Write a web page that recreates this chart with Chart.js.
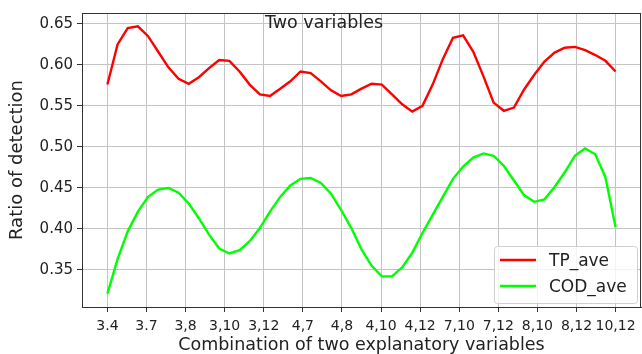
<!DOCTYPE html>
<html>
<head>
<meta charset="utf-8">
<title>Two variables</title>
<script src="https://cdn.jsdelivr.net/npm/chart.js@4.4.1/dist/chart.umd.min.js"></script>
<style>
  html, body { margin: 0; padding: 0; background: #fff; }
  #chart_wrap { width: 642px; height: 354px; }
</style>
</head>
<body>
<div id="chart_wrap"><canvas id="detection_chart" width="642" height="354"></canvas></div>
<script>
// Tick labels along the bottom (one per explanatory variable pair)
const categories = ["3.4", "3.7", "3,8", "3,10", "3,12", "4,7", "4,8", "4,10", "4,12", "7,10", "7,12", "8,10", "8,12", "10,12"];
const yTicks = [0.35, 0.40, 0.45, 0.50, 0.55, 0.60, 0.65];
const seriesNames = ["TP_ave", "COD_ave"];
const chartTitle = "Two variables";

// Smoothed curves, 51 samples spread evenly from the first to the last category
const tpAve = [
  0.576, 0.625, 0.645, 0.647, 0.635, 0.616, 0.597, 0.583, 0.577, 0.585,
  0.596, 0.606, 0.605, 0.592, 0.576, 0.564, 0.562, 0.571, 0.580, 0.592,
  0.590, 0.580, 0.569, 0.562, 0.564, 0.571, 0.577, 0.576, 0.564, 0.552,
  0.543, 0.550, 0.576, 0.607, 0.633, 0.636, 0.616, 0.586, 0.554, 0.544,
  0.548, 0.570, 0.588, 0.604, 0.615, 0.621, 0.622, 0.618, 0.612, 0.605,
  0.592,
];
const codAve = [
  0.321, 0.363, 0.397, 0.421, 0.439, 0.448, 0.450, 0.444, 0.431, 0.413,
  0.393, 0.376, 0.370, 0.374, 0.385, 0.401, 0.421, 0.439, 0.453, 0.461,
  0.462, 0.456, 0.443, 0.423, 0.401, 0.375, 0.355, 0.342, 0.342, 0.353,
  0.371, 0.395, 0.417, 0.439, 0.461, 0.476, 0.487, 0.492, 0.489, 0.477,
  0.459, 0.441, 0.433, 0.436, 0.451, 0.469, 0.489, 0.498, 0.491, 0.463,
  0.402,
];

const DetectionChart = {
  chartInstance: null,

  init: function () {
    const ctx = document.getElementById("detection_chart");
    if (!ctx) return;

    Chart.defaults.font.family = "'DejaVu Sans', sans-serif";
    Chart.defaults.color = "#222";

    const lastIndex = categories.length - 1;
    const toPoints = function (values) {
      return values.map(function (v, i) {
        return { x: (i * lastIndex) / (values.length - 1), y: v };
      });
    };

    // matplotlib style 5% margins around the data
    const allValues = tpAve.concat(codAve);
    const lo = Math.min.apply(null, allValues);
    const hi = Math.max.apply(null, allValues);
    const yPad = (hi - lo) * 0.05;

    this.chartInstance = new Chart(ctx, {
      type: "line",
      data: {
        datasets: [
          {
            label: seriesNames[0],
            data: toPoints(tpAve),
            borderColor: "#ff0000",
            borderWidth: 2.4,
            pointRadius: 0,
            tension: 0,
            fill: false,
          },
          {
            label: seriesNames[1],
            data: toPoints(codAve),
            borderColor: "#00ff00",
            borderWidth: 2.4,
            pointRadius: 0,
            tension: 0,
            fill: false,
          },
        ],
      },
      options: {
        responsive: false,
        animation: false,
        devicePixelRatio: 1,
        layout: { padding: { top: 9, right: 1, left: 0, bottom: 0 } },
        plugins: {
          legend: { display: false },
          tooltip: { enabled: false },
        },
        scales: {
          x: {
            type: "linear",
            min: -lastIndex * 0.05,
            max: lastIndex * 1.05,
            afterBuildTicks: function (axis) {
              axis.ticks = categories.map(function (c, i) {
                return { value: i };
              });
            },
            afterFit: function (scale) {
              scale.height = 47;
            },
            ticks: {
              autoSkip: false,
              maxRotation: 0,
              padding: 6,
              font: { size: 14 },
              color: "#222",
              callback: function (value) {
                return categories[value];
              },
            },
            grid: {
              color: "#c4c4c4",
              lineWidth: 1,
              tickLength: 5,
              tickColor: "#333",
            },
            border: { color: "#333", width: 1 },
            title: {
              display: true,
              text: "Combination of two explanatory variables",
              font: { size: 17.5, lineHeight: 1.0 },
              color: "#222",
              padding: { top: 0, bottom: 0 },
            },
          },
          y: {
            min: lo - yPad,
            max: hi + yPad,
            afterBuildTicks: function (axis) {
              axis.ticks = yTicks.map(function (v) {
                return { value: v };
              });
            },
            afterFit: function (scale) {
              scale.width = 82;
            },
            ticks: {
              padding: 4,
              font: { size: 15 },
              color: "#222",
              callback: function (value) {
                return value.toFixed(2);
              },
            },
            grid: {
              color: "#c4c4c4",
              lineWidth: 1,
              tickLength: 5,
              tickColor: "#333",
            },
            border: { color: "#333", width: 1 },
            title: {
              display: true,
              text: "Ratio of detection",
              font: { size: 18 },
              color: "#222",
              padding: { top: 7, bottom: 0 },
            },
          },
        },
      },
      plugins: [this.framePlugin(), this.annotationPlugin()],
    });
  },

  // Top and right spines, matplotlib draws a full box round the axes
  framePlugin: function () {
    return {
      id: "frame",
      afterDraw: function (chart) {
        const a = chart.chartArea;
        const c = chart.ctx;
        c.save();
        c.strokeStyle = "#333";
        c.lineWidth = 1;
        c.beginPath();
        c.moveTo(a.left, a.top + 0.5);
        c.lineTo(a.right, a.top + 0.5);
        c.moveTo(a.right - 0.5, a.top);
        c.lineTo(a.right - 0.5, a.bottom);
        c.stroke();
        c.restore();
      },
    };
  },

  // Text title inside the axes and the legend box in the lower right
  annotationPlugin: function () {
    return {
      id: "annotations",
      afterDraw: function (chart) {
        const a = chart.chartArea;
        const c = chart.ctx;
        c.save();

        c.fillStyle = "#222";
        c.font = "17.5px 'DejaVu Sans', sans-serif";
        c.textAlign = "center";
        c.textBaseline = "middle";
        c.fillText(chartTitle, a.left + 242, a.top + 10);

        // legend frame
        const w = 143;
        const h = 57;
        const bx = a.right - 4 - w;
        const by = a.bottom - 4 - h;
        c.fillStyle = "rgba(255,255,255,0.8)";
        c.strokeStyle = "#d0d0d0";
        c.lineWidth = 1;
        c.beginPath();
        c.roundRect(bx + 0.5, by + 0.5, w, h, 3);
        c.fill();
        c.stroke();

        c.font = "17px 'DejaVu Sans', sans-serif";
        c.textAlign = "left";
        chart.data.datasets.forEach(function (ds, i) {
          const ly = by + 14 + i * 26;
          c.strokeStyle = ds.borderColor;
          c.lineWidth = 2.4;
          c.beginPath();
          c.moveTo(bx + 6, ly);
          c.lineTo(bx + 42, ly);
          c.stroke();
          c.fillStyle = "#222";
          c.fillText(ds.label, bx + 55, ly + 2);
        });
        c.restore();
      },
    };
  },
};

DetectionChart.init();
</script>
</body>
</html>
